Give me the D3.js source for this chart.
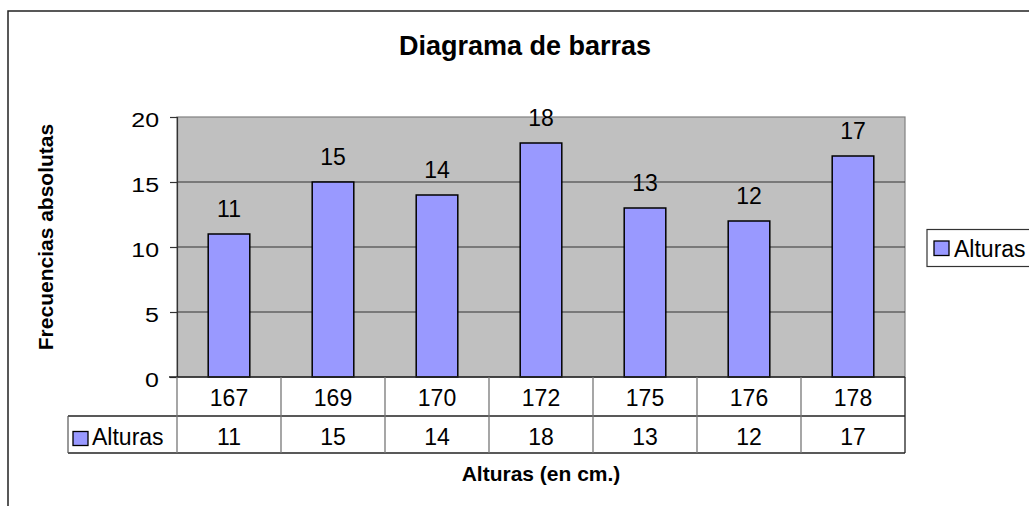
<!DOCTYPE html>
<html>
<head>
<meta charset="utf-8">
<script src="https://cdn.jsdelivr.net/npm/d3@7"></script>
<style>
  body { margin: 0; background: #fff; }
  svg { display: block; font-family: "Liberation Sans", Arial, sans-serif; }
</style>
</head>
<body>
<svg width="1029" height="506"></svg>
<script>
// datos
const alturas = ["167", "169", "170", "172", "175", "176", "178"];
const frecuencias = [11, 15, 14, 18, 13, 12, 17];
const yTicks = [0, 5, 10, 15, 20];
const serie = "Alturas";

const svg = d3.select("svg");
const fill = "#9999ff";

// plot area
const plotLeft = 177, plotRight = 905, plotTop = 117, plotBottom = 377;

const x = d3.scaleBand().domain(alturas).range([plotLeft, plotRight]).padding(0);
const y = d3.scaleLinear().domain([0, 20]).range([plotBottom, plotTop]);

// outer frame (goes off the picture on the right and bottom)
svg.append("rect")
  .attr("x", 8).attr("y", 11)
  .attr("width", 1200).attr("height", 700)
  .attr("fill", "none").attr("stroke", "#222").attr("stroke-width", 1.5);

// title
svg.append("text")
  .attr("x", 525).attr("y", 55)
  .attr("text-anchor", "middle")
  .attr("font-weight", "bold").attr("font-size", 27)
  .text("Diagrama de barras");

// plot background
svg.append("rect")
  .attr("x", plotLeft).attr("y", plotTop)
  .attr("width", plotRight - plotLeft).attr("height", plotBottom - plotTop)
  .attr("fill", "#c0c0c0").attr("stroke", "#808080").attr("stroke-width", 1.2);

// gridlines
svg.append("g")
  .selectAll("line")
  .data(yTicks.filter(d => d > 0 && d < 20))
  .enter().append("line")
  .attr("x1", plotLeft).attr("x2", plotRight)
  .attr("y1", d => y(d)).attr("y2", d => y(d))
  .attr("stroke", "#333").attr("stroke-width", 1.2);

// y axis
const yAxis = svg.append("g")
  .attr("transform", "translate(" + plotLeft + ",0)")
  .call(d3.axisLeft(y).tickValues(yTicks).tickSize(7).tickPadding(0));
yAxis.select(".domain").attr("stroke", "#333").attr("stroke-width", 1.2);
yAxis.selectAll(".tick line").attr("stroke", "#333").attr("stroke-width", 1.2);
yAxis.selectAll(".tick text")
  .attr("x", 0).attr("dy", null).attr("y", 9)
  .attr("font-size", 19.5)
  .attr("font-family", "'Liberation Sans', Arial, sans-serif")
  .attr("fill", "#000")
  .attr("transform", "translate(-18,0) scale(1.28,1)");

// bars
const barW = x.bandwidth() * 0.4;
svg.append("g")
  .selectAll("rect")
  .data(frecuencias)
  .enter().append("rect")
  .attr("x", (d, i) => x(alturas[i]) + (x.bandwidth() - barW) / 2)
  .attr("y", d => y(d))
  .attr("width", barW)
  .attr("height", d => y(0) - y(d))
  .attr("fill", fill).attr("stroke", "#000").attr("stroke-width", 1.5);

// bar labels
svg.append("g")
  .selectAll("text")
  .data(frecuencias)
  .enter().append("text")
  .attr("x", (d, i) => x(alturas[i]) + x.bandwidth() / 2)
  .attr("y", d => y(d) - 17)
  .attr("text-anchor", "middle")
  .attr("font-size", 23)
  .text(d => d);

// data table
const row1 = plotBottom, row2 = 416, row3 = 453, tableLeft = 68;
const table = svg.append("g");
table.append("line")
  .attr("x1", plotLeft - 8).attr("x2", plotRight).attr("y1", row1).attr("y2", row1)
  .attr("stroke", "#222").attr("stroke-width", 1.5);
table.append("line")
  .attr("x1", tableLeft).attr("x2", plotRight).attr("y1", row2).attr("y2", row2)
  .attr("stroke", "#222").attr("stroke-width", 1.5);
table.append("line")
  .attr("x1", tableLeft).attr("x2", plotRight).attr("y1", row3).attr("y2", row3)
  .attr("stroke", "#222").attr("stroke-width", 1.5);
table.append("line")
  .attr("x1", tableLeft).attr("x2", tableLeft).attr("y1", row2).attr("y2", row3)
  .attr("stroke", "#555").attr("stroke-width", 1.2);
table.selectAll(".vline")
  .data(alturas.map(a => x(a)).concat([plotRight]))
  .enter().append("line")
  .attr("x1", d => d).attr("x2", d => d)
  .attr("y1", row1).attr("y2", row3)
  .attr("stroke", d => d === plotRight ? "#222" : "#777").attr("stroke-width", 1.3);

table.selectAll(".cat")
  .data(alturas)
  .enter().append("text")
  .attr("x", d => x(d) + x.bandwidth() / 2)
  .attr("y", 405.5)
  .attr("text-anchor", "middle").attr("font-size", 23)
  .text(d => d);

table.selectAll(".val")
  .data(frecuencias)
  .enter().append("text")
  .attr("x", (d, i) => x(alturas[i]) + x.bandwidth() / 2)
  .attr("y", 444.5)
  .attr("text-anchor", "middle").attr("font-size", 23)
  .text(d => d);

table.append("rect")
  .attr("x", 73).attr("y", 431.5).attr("width", 15).attr("height", 14)
  .attr("fill", fill).attr("stroke", "#000").attr("stroke-width", 1.3);
table.append("text")
  .attr("x", 92).attr("y", 445).attr("font-size", 23)
  .text(serie);

// axis titles
svg.append("text")
  .attr("x", 541).attr("y", 481)
  .attr("text-anchor", "middle")
  .attr("font-weight", "bold").attr("font-size", 21)
  .text("Alturas (en cm.)");

svg.append("text")
  .attr("transform", "translate(53,237) rotate(-90)")
  .attr("text-anchor", "middle")
  .attr("font-weight", "bold").attr("font-size", 21)
  .text("Frecuencias absolutas");

// legend
const legend = svg.append("g");
legend.append("rect")
  .attr("x", 927).attr("y", 229.5).attr("width", 200).attr("height", 37)
  .attr("fill", "#fff").attr("stroke", "#333").attr("stroke-width", 1.2);
legend.append("rect")
  .attr("x", 934).attr("y", 241).attr("width", 15).attr("height", 14.5)
  .attr("fill", fill).attr("stroke", "#000").attr("stroke-width", 1.3);
legend.append("text")
  .attr("x", 954).attr("y", 257).attr("font-size", 23)
  .text(serie);
</script>
</body>
</html>
